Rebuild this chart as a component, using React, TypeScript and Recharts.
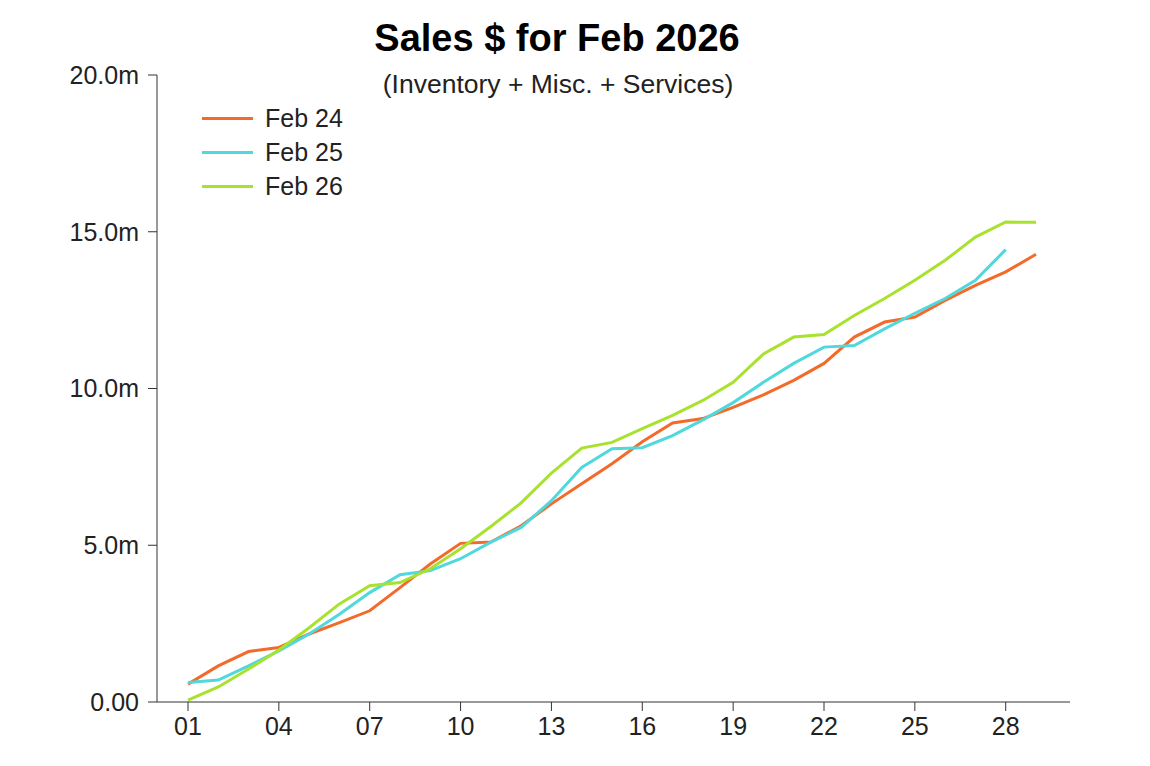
import { LineChart, Line, XAxis, YAxis, Legend } from "recharts";

const FONT = '"Liberation Sans", Arial, sans-serif';

const days = [
  "01", "02", "03", "04", "05", "06", "07", "08", "09", "10",
  "11", "12", "13", "14", "15", "16", "17", "18", "19", "20",
  "21", "22", "23", "24", "25", "26", "27", "28", "29",
];

// cumulative sales, millions
const feb24 = [
  0.57, 1.15, 1.61, 1.74, 2.17, 2.53, 2.91, 3.65, 4.4, 5.06,
  5.1, 5.62, 6.32, 6.96, 7.6, 8.3, 8.9, 9.04, 9.4, 9.8,
  10.26, 10.8, 11.64, 12.12, 12.28, 12.81, 13.29, 13.72, 14.28,
];
const feb25 = [
  0.62, 0.7, 1.15, 1.63, 2.17, 2.8, 3.49, 4.06, 4.19, 4.57,
  5.1, 5.57, 6.42, 7.48, 8.08, 8.11, 8.5, 9.0, 9.55, 10.2,
  10.8, 11.32, 11.37, 11.9, 12.4, 12.87, 13.45, 14.43,
];
const feb26 = [
  0.06, 0.48, 1.05, 1.66, 2.37, 3.13, 3.71, 3.81, 4.25, 4.89,
  5.6, 6.35, 7.3, 8.1, 8.28, 8.72, 9.14, 9.62, 10.2, 11.1,
  11.64, 11.72, 12.33, 12.87, 13.45, 14.09, 14.83, 15.31, 15.3,
];

const yTicks = [0, 5, 10, 15, 20];

const data = days.map((day, i) => ({
  day,
  feb24: feb24[i],
  feb25: feb25[i],
  feb26: feb26[i],
}));

function LegendBox({ payload }: any) {
  return (
    <div style={{ fontFamily: FONT, fontSize: 25, color: "#222" }}>
      {(payload ?? []).map((item: any) => (
        <div
          key={item.value}
          style={{ display: "flex", alignItems: "center", height: 34 }}
        >
          <span
            style={{
              display: "inline-block",
              width: 51,
              height: 3,
              background: item.color,
              marginRight: 12,
            }}
          />
          <span>{item.value}</span>
        </div>
      ))}
    </div>
  );
}

export default function App() {
  const tickStyle = { fontSize: 25, fill: "#222", fontFamily: FONT };
  return (
    <div
      style={{
        position: "absolute",
        left: 0,
        top: 0,
        width: 1150,
        height: 766,
        background: "#fff",
      }}
    >
      <LineChart
        width={1150}
        height={766}
        data={data}
        margin={{ top: 75, right: 80, bottom: 0, left: 0 }}
      >
        <XAxis
          dataKey="day"
          interval={2}
          padding={{ left: 31, right: 34 }}
          height={64}
          stroke="#333"
          tickSize={9}
          tickMargin={6}
          tick={tickStyle}
        />
        <YAxis
          domain={[0, 20]}
          ticks={yTicks}
          width={157}
          stroke="#333"
          tickSize={9}
          tickMargin={9}
          tick={tickStyle}
          tickFormatter={(v: number) => (v === 0 ? "0.00" : `${v.toFixed(1)}m`)}
        />
        <Legend
          layout="horizontal"
          verticalAlign="middle"
          align="center"
          content={<LegendBox />}
          wrapperStyle={{ left: 202, top: 101, width: 200 }}
        />
        <Line
          dataKey="feb24"
          name="Feb 24"
          stroke="#f26b2a"
          strokeWidth={3}
          dot={false}
          isAnimationActive={false}
        />
        <Line
          dataKey="feb25"
          name="Feb 25"
          stroke="#50d8dc"
          strokeWidth={3}
          dot={false}
          isAnimationActive={false}
        />
        <Line
          dataKey="feb26"
          name="Feb 26"
          stroke="#a8e22e"
          strokeWidth={3}
          dot={false}
          isAnimationActive={false}
        />
      </LineChart>
      <svg
        width={1150}
        height={110}
        style={{ position: "absolute", left: 0, top: 0, pointerEvents: "none" }}
      >
        <text
          x={557}
          y={51}
          textAnchor="middle"
          fontSize={38}
          fontWeight={700}
          fontFamily={FONT}
          fill="#000"
        >
          Sales $ for Feb 2026
        </text>
        <text
          x={558}
          y={93}
          textAnchor="middle"
          fontSize={26.5}
          fontFamily={FONT}
          fill="#222"
        >
          (Inventory + Misc. + Services)
        </text>
      </svg>
    </div>
  );
}
